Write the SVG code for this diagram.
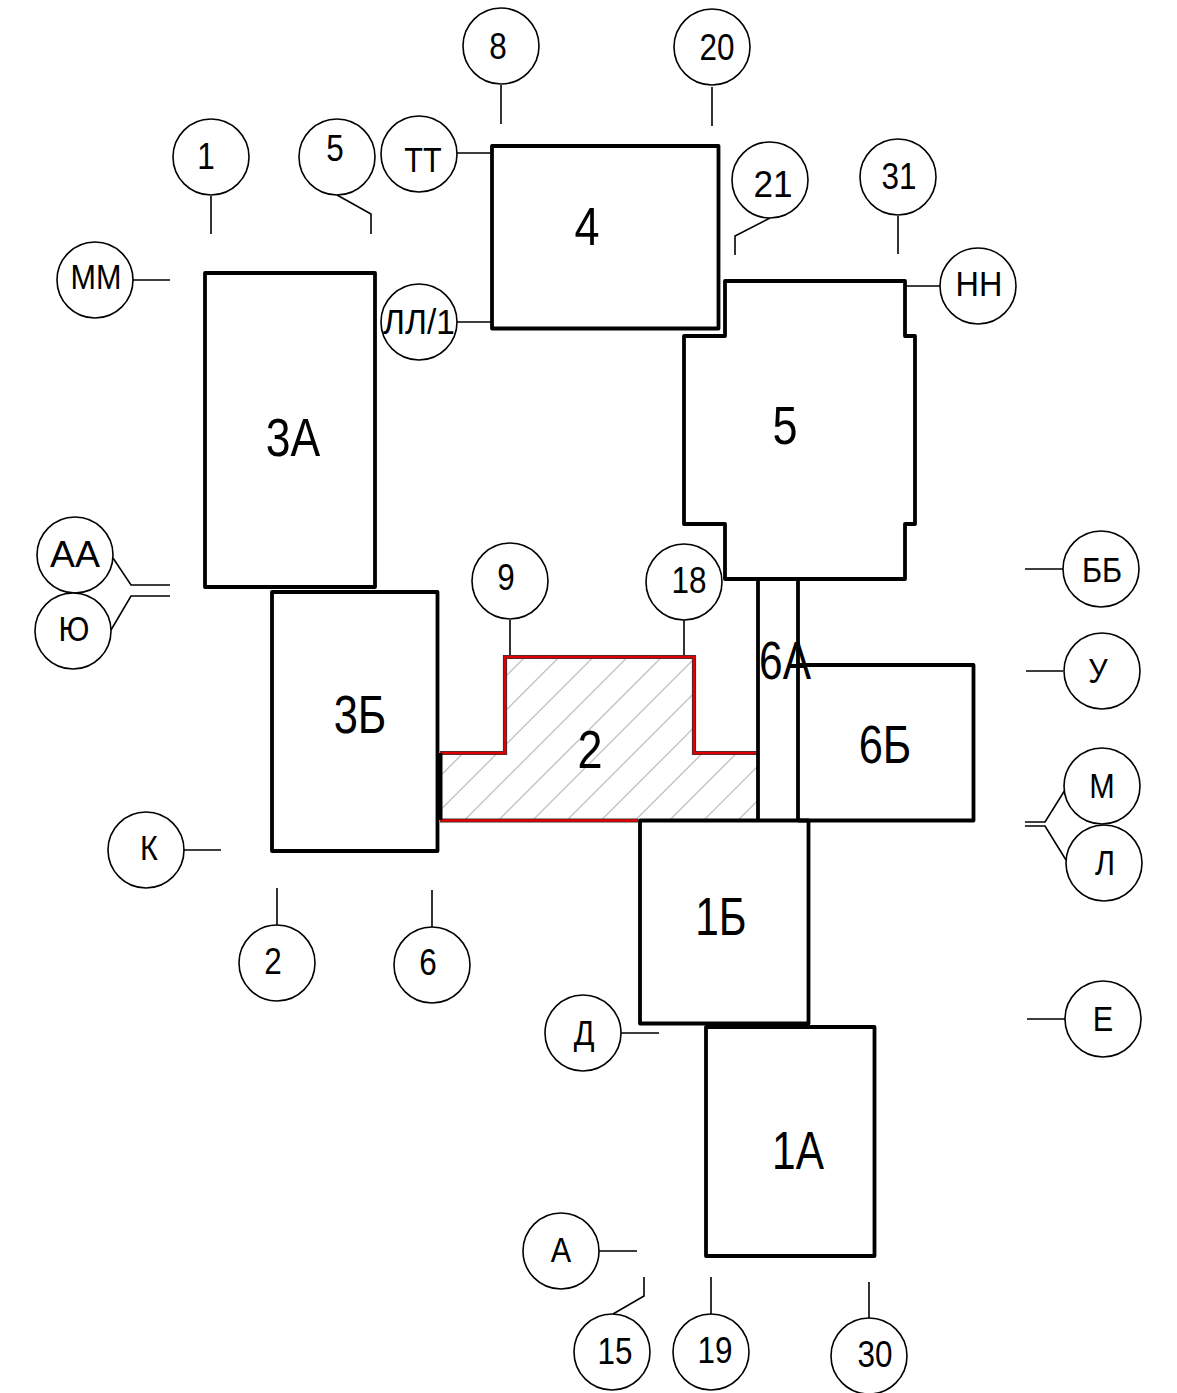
<svg xmlns="http://www.w3.org/2000/svg" width="1177" height="1393" viewBox="0 0 1177 1393">
<style>
.b{fill:none;stroke:#000;stroke-width:3.8;stroke-linejoin:round}
.c{fill:#fff;stroke:#000;stroke-width:1.6}
.l{fill:none;stroke:#000;stroke-width:1.6}
.h{fill:none;stroke:#c4c4c4;stroke-width:1.4}
.r{fill:none;stroke:#e00000;stroke-width:2.6;stroke-linejoin:miter}
.k{fill:none;stroke:#333;stroke-width:4.2;stroke-linejoin:miter}
text{font-family:"Liberation Sans",Arial,sans-serif;fill:#000;text-anchor:middle}
.s{font-size:37px}
.m{font-size:36px}
.n{font-size:53px}
</style>
<defs>
<clipPath id="hatchClip"><path d="M440 753H505V657H694V753H758V820H440Z"/></clipPath>
</defs>
<rect width="1177" height="1393" fill="#fff"/>
<g id="connectors">
<path class="l" d="M501 85V124M712 87V126M211 196V234M337 195L371 214V234M457 153H492M770 218L735 236V255M898 216V254M133 280H170M905 286H940M457 322H492M113 558L131 585H170M111 630L131 596H170M510 620V657M684 620V657M1025 569H1063M1026 671H1063M1065 790L1045 822H1025M1066 860L1045 826H1025M184 850H221M277 888V925M432 890V927M621 1033H659M1027 1019H1065M599 1251H637M613 1314L644 1296V1277M711 1277V1314M869 1282V1318"/>
</g>
<g id="node-2">
<path class="h" clip-path="url(#hatchClip)" d="M430 752L770 412M430 786.2L770 446.2M430 820.4L770 480.4M430 854.6L770 514.6M430 888.8L770 548.8M430 923L770 583M430 957.2L770 617.2M430 991.4L770 651.4M430 1025.6L770 685.6M430 1059.8L770 719.8M430 1094L770 754M430 1128.2L770 788.2"/>
<path class="k" d="M440 753H505V657H694V753H757M440 820.500H638"/>
<path class="r" d="M440 753H505V657H694V753H757M440 820.500H638"/>
<path d="M440 753V820" fill="none" stroke="#000" stroke-width="5"/>
<text class="n" transform="translate(590 768) scale(.85 1)">2</text>
</g>
<g id="node-3a"><rect class="b" x="205" y="273" width="170" height="314"/><text class="n" transform="translate(293 456) scale(.84 1)">3А</text></g>
<g id="node-3b"><rect class="b" x="272" y="592" width="165.500" height="259"/><text class="n" transform="translate(360 733) scale(.82 1)">3Б</text></g>
<g id="node-4"><rect class="b" x="492" y="146" width="226.500" height="182.500"/><text class="n" transform="translate(587 245) scale(.85 1)">4</text></g>
<g id="node-5"><path class="b" d="M725 281H905V336H915V524H905V579H725V524H684V336H725Z"/><text class="n" transform="translate(785 444) scale(.85 1)">5</text></g>
<g id="node-6a"><path class="b" d="M758 579V820M798 579V820"/><text class="n" transform="translate(785 679) scale(.8 1)">6А</text></g>
<g id="node-6b"><path class="b" d="M798 665H973.500V820.500H798"/><text class="n" transform="translate(885 763) scale(.82 1)">6Б</text></g>
<g id="node-1b"><rect class="b" x="640" y="820.500" width="168.500" height="203"/><text class="n" transform="translate(721 935) scale(.8 1)">1Б</text></g>
<g id="node-1a"><rect class="b" x="706" y="1027" width="168.500" height="229"/><text class="n" transform="translate(798 1169) scale(.8 1)">1А</text></g>
<g id="callout-8"><circle class="c" cx="501" cy="46" r="38"/><text class="s" transform="translate(498 59) scale(.85 1)">8</text></g>
<g id="callout-20"><circle class="c" cx="712" cy="47" r="38"/><text class="s" transform="translate(717 60) scale(.85 1)">20</text></g>
<g id="callout-1"><circle class="c" cx="211" cy="157" r="38"/><text class="s" transform="translate(206 169) scale(.85 1)">1</text></g>
<g id="callout-5"><circle class="c" cx="337" cy="157" r="38"/><text class="s" transform="translate(335 161) scale(.85 1)">5</text></g>
<g id="callout-tt"><circle class="c" cx="419" cy="154" r="38"/><text class="m" transform="translate(423 172) scale(.85 1)">ТТ</text></g>
<g id="callout-21"><circle class="c" cx="770" cy="180" r="38"/><text class="s" transform="translate(773 197) scale(.95 1)">21</text></g>
<g id="callout-31"><circle class="c" cx="898" cy="177" r="38"/><text class="s" transform="translate(899 189) scale(.85 1)">31</text></g>
<g id="callout-mm"><circle class="c" cx="95" cy="280" r="38"/><text class="m" transform="translate(96 289) scale(.85 1)">ММ</text></g>
<g id="callout-nn"><circle class="c" cx="978" cy="286" r="38"/><text class="m" transform="translate(979 296) scale(.9 1)">НН</text></g>
<g id="callout-ll1"><circle class="c" cx="419" cy="322" r="38"/><text class="m" transform="translate(419 334) scale(.93 1)">ЛЛ/1</text></g>
<g id="callout-aa"><circle class="c" cx="75" cy="555" r="38"/><text class="m" transform="translate(75 567) scale(1.04 1)">АА</text></g>
<g id="callout-yu"><circle class="c" cx="73" cy="631" r="38"/><text class="m" transform="translate(74 641) scale(.85 1)">Ю</text></g>
<g id="callout-9"><circle class="c" cx="510" cy="581" r="38"/><text class="s" transform="translate(506 590) scale(.85 1)">9</text></g>
<g id="callout-18"><circle class="c" cx="684" cy="582" r="38"/><text class="s" transform="translate(689 593) scale(.85 1)">18</text></g>
<g id="callout-bb"><circle class="c" cx="1101" cy="569" r="38"/><text class="m" transform="translate(1102 582) scale(.85 1)">ББ</text></g>
<g id="callout-u"><circle class="c" cx="1102" cy="671" r="38"/><text class="m" transform="translate(1098 683) scale(.85 1)">У</text></g>
<g id="callout-m"><circle class="c" cx="1102" cy="786" r="38"/><text class="m" transform="translate(1102 798) scale(.85 1)">М</text></g>
<g id="callout-l"><circle class="c" cx="1104" cy="863" r="38"/><text class="m" transform="translate(1105 875) scale(.85 1)">Л</text></g>
<g id="callout-k"><circle class="c" cx="146" cy="850" r="38"/><text class="m" transform="translate(149 860) scale(.85 1)">К</text></g>
<g id="callout-2"><circle class="c" cx="277" cy="963" r="38"/><text class="s" transform="translate(273 974) scale(.85 1)">2</text></g>
<g id="callout-6"><circle class="c" cx="432" cy="965" r="38"/><text class="s" transform="translate(428 975) scale(.85 1)">6</text></g>
<g id="callout-d"><circle class="c" cx="583" cy="1033" r="38"/><text class="m" transform="translate(584 1045) scale(.85 1)">Д</text></g>
<g id="callout-e"><circle class="c" cx="1103" cy="1019" r="38"/><text class="m" transform="translate(1103 1031) scale(.85 1)">Е</text></g>
<g id="callout-a"><circle class="c" cx="561" cy="1251" r="38"/><text class="m" transform="translate(561 1262) scale(.85 1)">А</text></g>
<g id="callout-15"><circle class="c" cx="612" cy="1352" r="38"/><text class="s" transform="translate(615 1364) scale(.85 1)">15</text></g>
<g id="callout-19"><circle class="c" cx="711" cy="1352" r="38"/><text class="s" transform="translate(715 1363) scale(.85 1)">19</text></g>
<g id="callout-30"><circle class="c" cx="869" cy="1356" r="38"/><text class="s" transform="translate(875 1367) scale(.85 1)">30</text></g>
</svg>
